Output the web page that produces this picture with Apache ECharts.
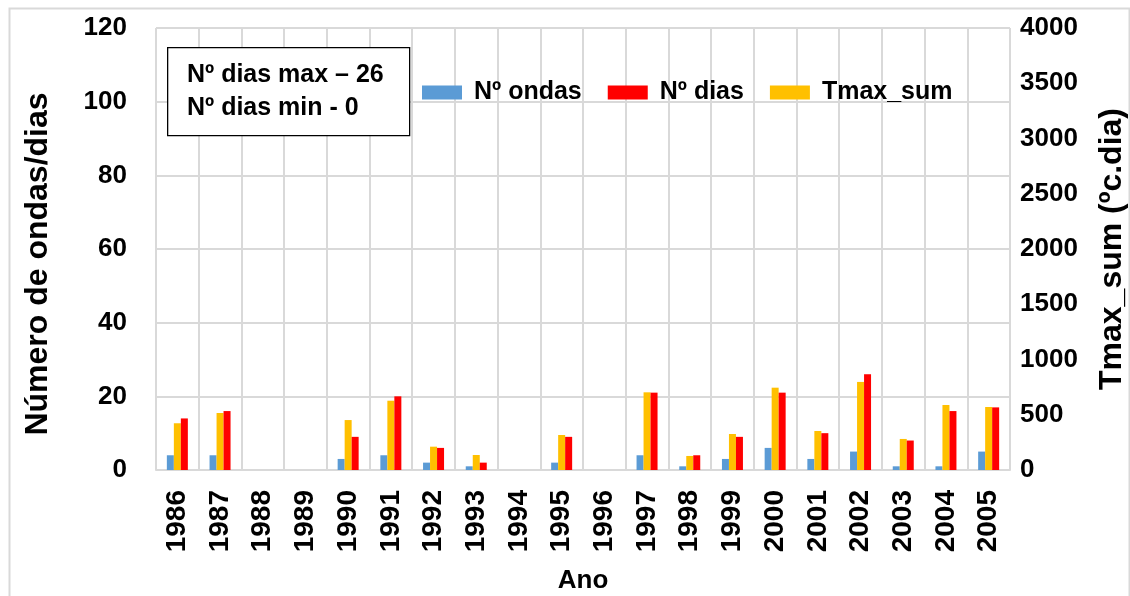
<!DOCTYPE html>
<html>
<head>
<meta charset="utf-8">
<script src="https://cdn.jsdelivr.net/npm/echarts@6/dist/echarts.min.js"></script>
<style>
  html, body { margin: 0; padding: 0; background: #fff; }
  #chart { width: 1130px; height: 596px; }
</style>
</head>
<body>
<div id="chart"></div>
<script>
// Heat-wave statistics per year
const years = ['1986','1987','1988','1989','1990','1991','1992','1993','1994','1995',
               '1996','1997','1998','1999','2000','2001','2002','2003','2004','2005'];
const numOndas = [4, 4, 0, 0, 3, 4, 2, 1, 0, 2, 0, 4, 1, 3, 6, 3, 5, 1, 1, 5];
const numDias  = [14, 16, 0, 0, 9, 20, 6, 2, 0, 9, 0, 21, 4, 9, 21, 10, 26, 8, 16, 17];
const tmaxSum  = [423, 516, 0, 0, 452, 627, 211, 136, 0, 317, 0, 703, 127, 326, 745, 353, 797, 281, 588, 570];
const leftTicks = { min: 0, max: 120, interval: 20 };
const rightTicks = { min: 0, max: 4000, interval: 500 };
const noteLines = ['Nº dias max – 26', 'Nº dias min - 0'];

const FONT = '"Liberation Sans", Arial, sans-serif';
const GRID = '#d9d9d9';

const chart = echarts.init(document.getElementById('chart'));
chart.setOption({
  animation: false,
  backgroundColor: '#fff',
  grid: { left: 156, right: 120, top: 28, bottom: 126, containLabel: false, outerBoundsMode: 'none' },
  legend: {
    left: 417, top: 75, z: 50,
    itemWidth: 40, itemHeight: 14, itemGap: 26,
    icon: 'rect',
    data: ['Nº ondas', 'Nº dias', 'Tmax_sum'],
    textStyle: { fontFamily: FONT, fontWeight: 'bold', fontSize: 25, color: '#000', padding: [0, 0, 0, 7] }
  },
  xAxis: {
    type: 'category',
    data: years,
    name: 'Ano',
    nameLocation: 'middle',
    nameGap: 98,
    nameTextStyle: { fontFamily: FONT, fontWeight: 'bold', fontSize: 26, color: '#000' },
    axisLine: { lineStyle: { color: GRID, width: 2 } },
    axisTick: { show: false },
    splitLine: { show: true, lineStyle: { color: GRID, width: 2 } },
    axisLabel: { rotate: 90, margin: 20, fontFamily: FONT, fontWeight: 'bold', fontSize: 28, color: '#000', interval: 0 }
  },
  yAxis: [
    {
      type: 'value', min: leftTicks.min, max: leftTicks.max, interval: leftTicks.interval,
      name: 'Número de ondas/dias',
      nameLocation: 'middle', nameGap: 102,
      nameTextStyle: { fontFamily: FONT, fontWeight: 'bold', fontSize: 32, color: '#000', padding: [0, 30, 0, 0] },
      axisLine: { show: false }, axisTick: { show: false },
      splitLine: { show: true, lineStyle: { color: GRID, width: 2 } },
      axisLabel: { margin: 29, fontFamily: FONT, fontWeight: 'bold', fontSize: 26, color: '#000' }
    },
    {
      type: 'value', min: rightTicks.min, max: rightTicks.max, interval: rightTicks.interval,
      name: 'Tmax_sum (ºc.dia)',
      nameLocation: 'middle', nameGap: 86,
      nameTextStyle: { fontFamily: FONT, fontWeight: 'bold', fontSize: 32, color: '#000' },
      axisLine: { show: false }, axisTick: { show: false },
      splitLine: { show: false },
      axisLabel: { margin: 10, fontFamily: FONT, fontWeight: 'bold', fontSize: 26, color: '#000',
                   formatter: v => String(v) }
    }
  ],
  series: [
    { name: 'Nº ondas', type: 'bar', yAxisIndex: 0, data: numOndas, barWidth: 7, barGap: '0%', barCategoryGap: '50%',
      itemStyle: { color: '#5B9BD5' } },
    { name: 'Tmax_sum', type: 'bar', yAxisIndex: 1, data: tmaxSum, barWidth: 7, barGap: '0%',
      itemStyle: { color: '#FFC000' } },
    { name: 'Nº dias', type: 'bar', yAxisIndex: 0, data: numDias, barWidth: 7, barGap: '0%',
      itemStyle: { color: '#FF0000' } }
  ],
  graphic: [
    { type: 'rect', left: 7, top: 6, shape: { width: 1120, height: 600 },
      style: { fill: 'none', stroke: GRID, lineWidth: 2 }, z: -10, silent: true },
    { type: 'rect', left: 167, top: 47, z: 100, shape: { x: 0, y: 0, width: 242, height: 88 },
      style: { fill: '#fff', stroke: '#000', lineWidth: 1.3 } },
    { type: 'text', left: 187, top: 63, z: 101,
      style: { text: noteLines[0], font: 'bold 25px ' + FONT, fill: '#000' } },
    { type: 'text', left: 187, top: 96, z: 101,
      style: { text: noteLines[1], font: 'bold 25px ' + FONT, fill: '#000' } }
  ]
});
</script>
</body>
</html>
